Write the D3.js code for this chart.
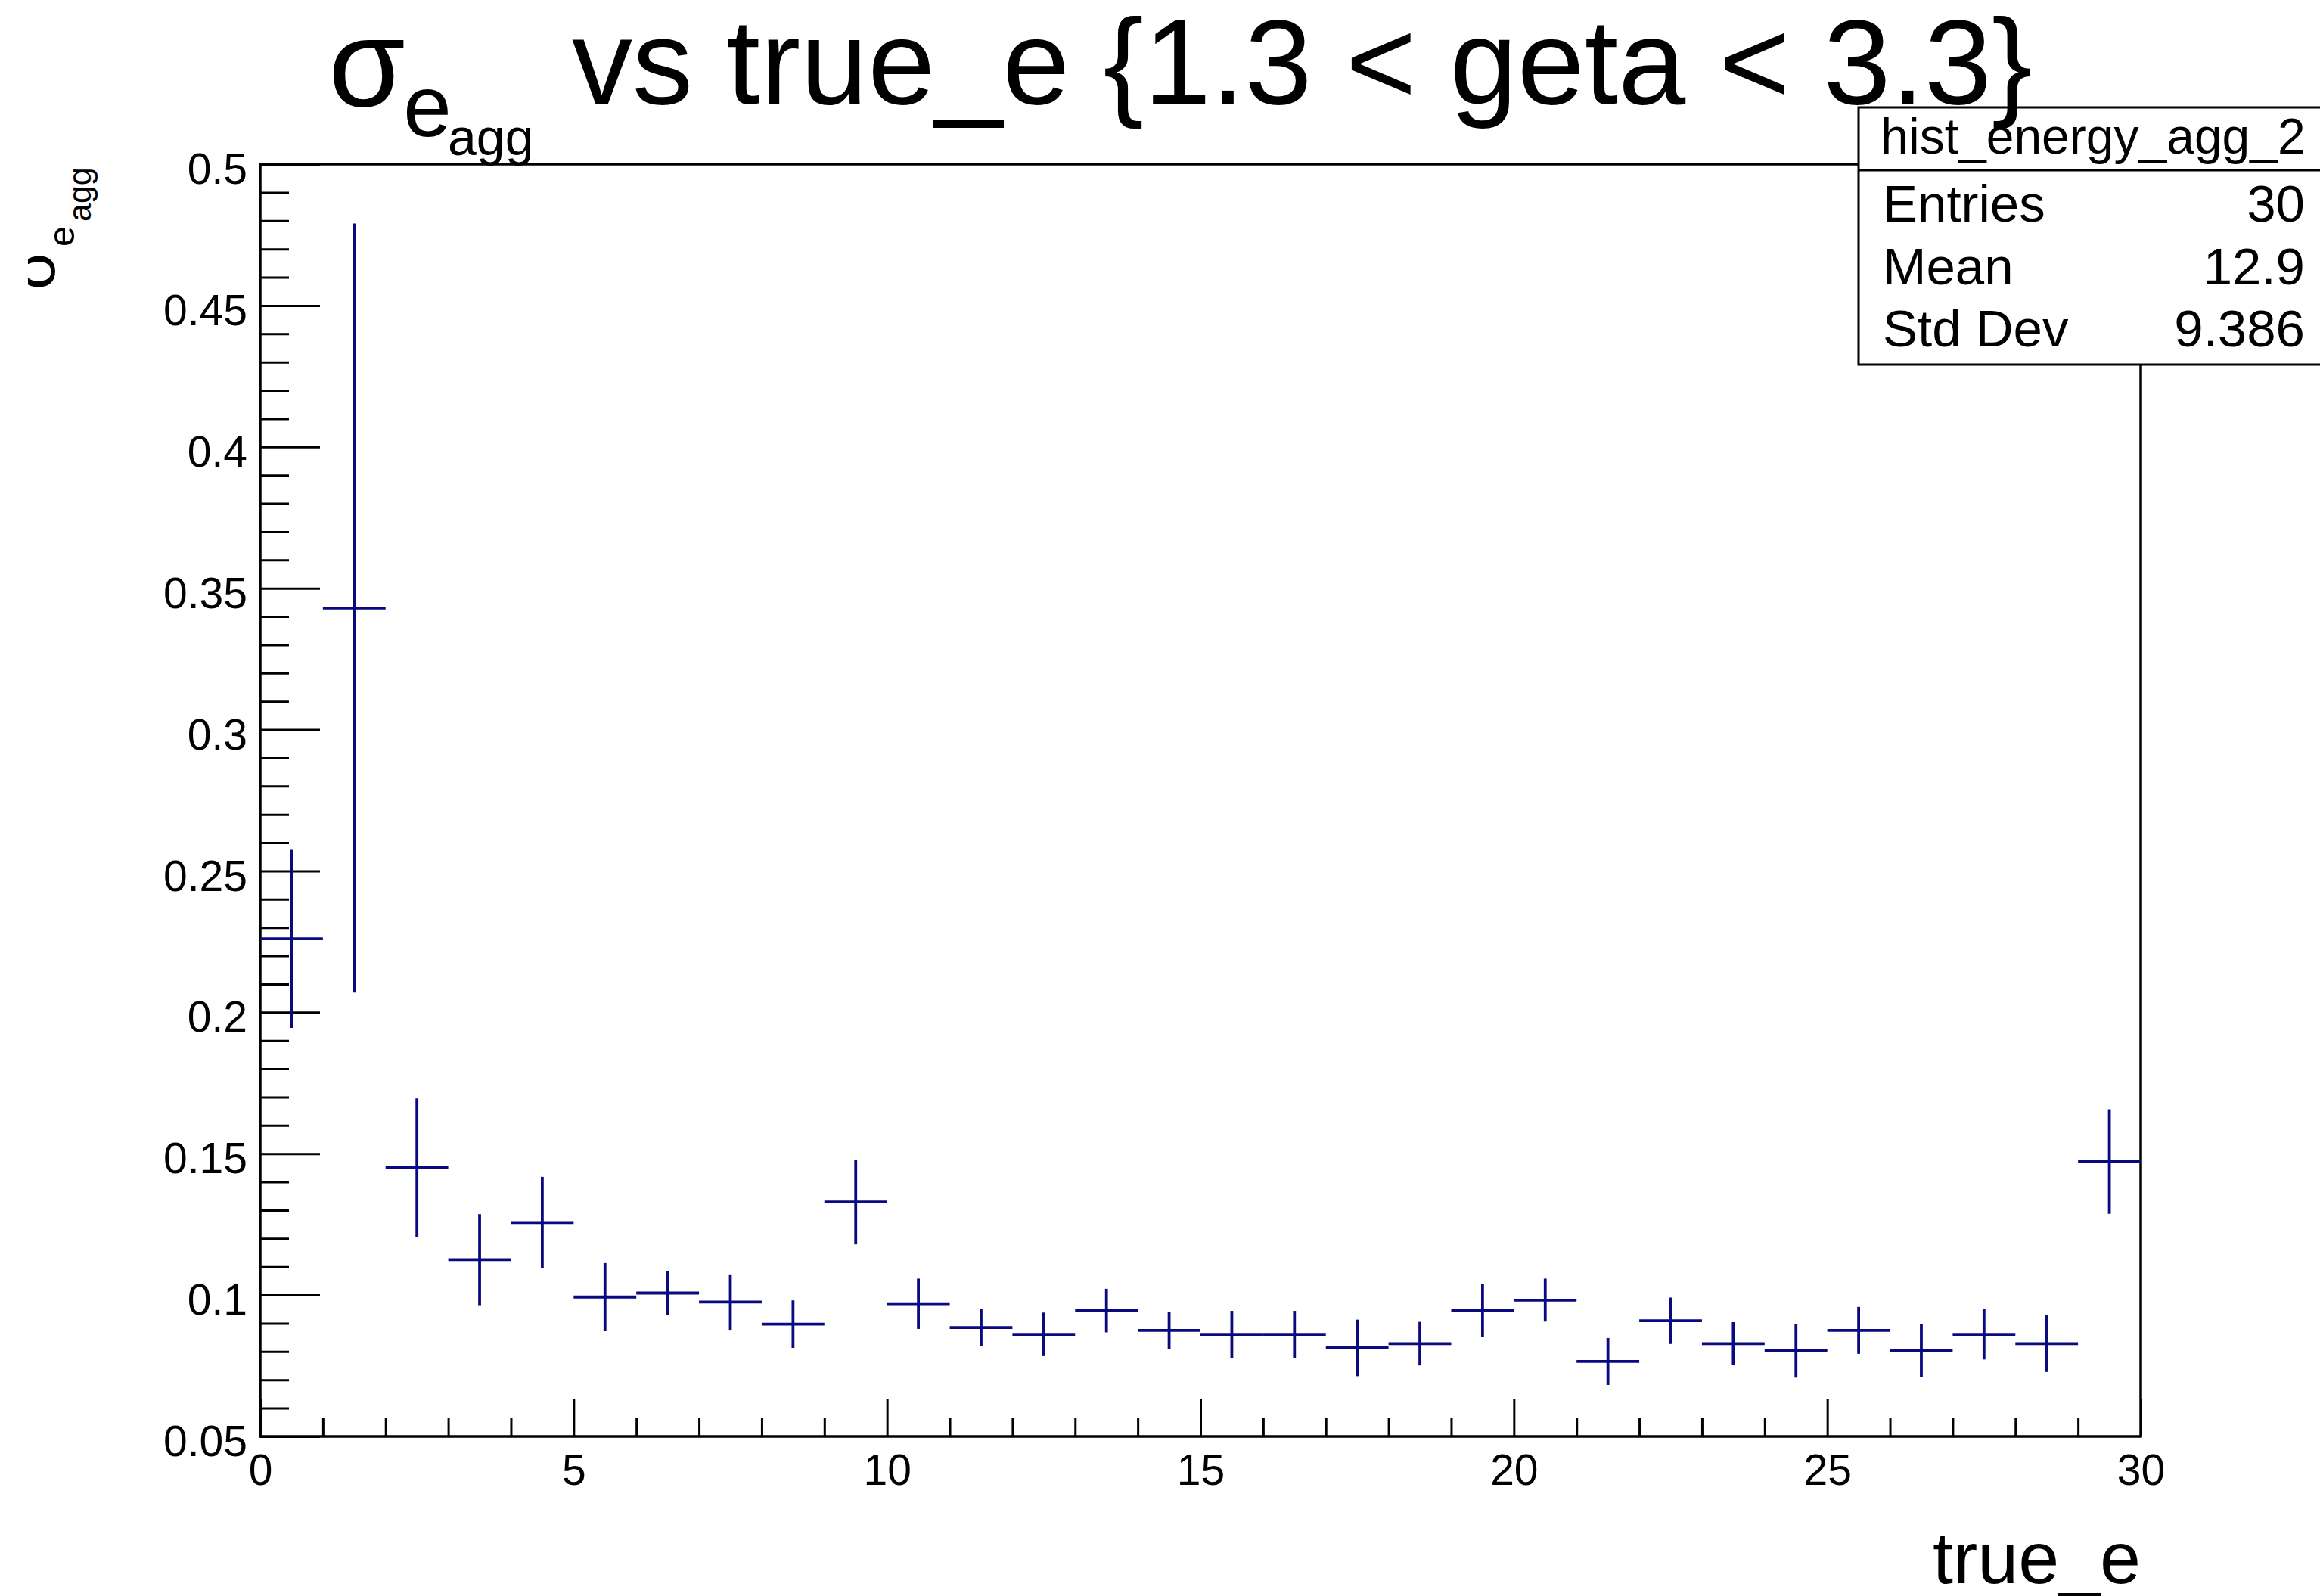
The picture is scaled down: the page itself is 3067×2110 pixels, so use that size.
<!DOCTYPE html>
<html>
<head>
<meta charset="utf-8">
<script src="https://cdn.jsdelivr.net/npm/d3@7"></script>
<style>
  html, body { margin: 0; padding: 0; background: #fff; }
  svg { display: block; }
  text { font-family: "Liberation Sans", Arial, Helvetica, sans-serif; fill: #000; }
</style>
</head>
<body>
<svg id="chart"></svg>
<script>
// bin centres of true_e (bin width 1)
const trueE = [0.5, 1.5, 2.5, 3.5, 4.5, 5.5, 6.5, 7.5, 8.5, 9.5,
               10.5, 11.5, 12.5, 13.5, 14.5, 15.5, 16.5, 17.5, 18.5, 19.5,
               20.5, 21.5, 22.5, 23.5, 24.5, 25.5, 26.5, 27.5, 28.5, 29.5];
// sigma_e_agg per bin
const sigmaVals = [0.226, 0.343, 0.145, 0.1125, 0.1256, 0.0993, 0.1007, 0.0975, 0.0897, 0.1329,
                   0.0969, 0.0885, 0.0861, 0.0945, 0.0875, 0.0861, 0.0861, 0.0813, 0.0828, 0.0946,
                   0.0982, 0.0765, 0.0909, 0.0828, 0.0803, 0.0875, 0.0803, 0.0861, 0.0828, 0.1472];
// error on each bin
const sigmaErrs = [0.0315, 0.136, 0.0245, 0.0161, 0.0162, 0.012, 0.0079, 0.0098, 0.0084, 0.015,
                   0.0089, 0.0065, 0.0077, 0.0077, 0.0066, 0.0083, 0.0083, 0.01, 0.0077, 0.0094,
                   0.0076, 0.0083, 0.0082, 0.0076, 0.0095, 0.0083, 0.0093, 0.0089, 0.01, 0.0185];
const binHalfWidth = 0.5;

const xTicks = [0, 5, 10, 15, 20, 25, 30];
const yTicks = [0.05, 0.1, 0.15, 0.2, 0.25, 0.3, 0.35, 0.4, 0.45, 0.5];
const yTickLabels = ["0.05", "0.1", "0.15", "0.2", "0.25", "0.3", "0.35", "0.4", "0.45", "0.5"];

const statsTitle = "hist_energy_agg_2";
const statsNames = ["Entries", "Mean", "Std Dev"];
const statsValues = ["30", "12.9", "9.386"];

const width = 3067, height = 2110;
const frame = { left: 344, right: 2830, top: 217, bottom: 1899 };
const lineColor = "#0a0a80";

const svg = d3.select("#chart")
    .attr("width", width)
    .attr("height", height);

svg.append("rect").attr("width", width).attr("height", height).attr("fill", "#fff");

const x = d3.scaleLinear().domain([0, 30]).range([frame.left, frame.right]);
const y = d3.scaleLinear().domain([0.05, 0.5]).range([frame.bottom, frame.top]);

// minor ticks (ROOT style, pointing into the frame)
const xMinor = d3.range(0, 30.001, 1).filter(v => v % 5 !== 0);
const yMinor = d3.range(0.05, 0.5001, 0.01).filter(v => Math.abs(v * 20 - Math.round(v * 20)) > 1e-6);

svg.append("g")
    .attr("transform", `translate(0, ${frame.bottom})`)
    .call(d3.axisBottom(x).tickValues(xMinor).tickSizeInner(-24).tickSizeOuter(0).tickFormat(""))
    .call(g => g.select(".domain").remove());

svg.append("g")
    .attr("transform", `translate(0, ${frame.bottom})`)
    .call(d3.axisBottom(x).tickValues(xTicks).tickSizeInner(-49).tickSizeOuter(0).tickPadding(24).tickFormat(d3.format("d")))
    .call(g => g.select(".domain").remove())
    .call(g => g.selectAll("text").attr("font-size", 57).attr("font-family", null));

svg.append("g")
    .attr("transform", `translate(${frame.left}, 0)`)
    .call(d3.axisLeft(y).tickValues(yMinor).tickSizeInner(-38).tickSizeOuter(0).tickFormat(""))
    .call(g => g.select(".domain").remove());

svg.append("g")
    .attr("transform", `translate(${frame.left}, 0)`)
    .call(d3.axisLeft(y).tickValues(yTicks).tickSizeInner(-79).tickSizeOuter(0).tickPadding(17)
        .tickFormat((d, i) => yTickLabels[i]))
    .call(g => g.select(".domain").remove())
    .call(g => g.selectAll("text").attr("font-size", 57).attr("font-family", null).attr("dy", "0.45em"));

svg.selectAll(".tick line").attr("stroke", "#000").attr("stroke-width", 3);

// frame
svg.append("rect")
    .attr("x", frame.left).attr("y", frame.top)
    .attr("width", frame.right - frame.left).attr("height", frame.bottom - frame.top)
    .attr("fill", "none").attr("stroke", "#000").attr("stroke-width", 3.5);

// error crosses
const pts = svg.append("g").attr("stroke", lineColor).attr("stroke-width", 3.8);
trueE.forEach((c, i) => {
    pts.append("line")
        .attr("x1", x(c - binHalfWidth)).attr("x2", x(c + binHalfWidth))
        .attr("y1", y(sigmaVals[i])).attr("y2", y(sigmaVals[i]));
    pts.append("line")
        .attr("x1", x(c)).attr("x2", x(c))
        .attr("y1", y(sigmaVals[i] - sigmaErrs[i])).attr("y2", y(sigmaVals[i] + sigmaErrs[i]));
});

// stats box
const box = svg.append("g");
box.append("rect")
    .attr("x", 2457).attr("y", 142).attr("width", 640).attr("height", 340)
    .attr("fill", "#fff").attr("stroke", "#000").attr("stroke-width", 3);
box.append("line")
    .attr("x1", 2457).attr("x2", 3097).attr("y1", 225).attr("y2", 225)
    .attr("stroke", "#000").attr("stroke-width", 3);
box.append("text")
    .attr("x", 2767).attr("y", 203).attr("text-anchor", "middle")
    .attr("font-size", 66).text(statsTitle);
statsNames.forEach((name, i) => {
    box.append("text").attr("x", 2489).attr("y", 293 + i * 82.5)
        .attr("font-size", 69).text(name);
    box.append("text").attr("x", 3047).attr("y", 293 + i * 82.5)
        .attr("text-anchor", "end").attr("font-size", 69).text(statsValues[i]);
});

// title
const title = svg.append("g");
title.append("text").attr("x", 434).attr("y", 140).attr("font-size", 165).text("σ");
title.append("text").attr("x", 533).attr("y", 180).attr("font-size", 115).text("e");
title.append("text").attr("x", 592).attr("y", 205).attr("font-size", 68).text("agg");
title.append("text").attr("x", 756).attr("y", 137).attr("font-size", 160)
    .text("vs true_e {1.3 < geta < 3.3}");

// axis titles
svg.append("text")
    .attr("x", frame.right).attr("y", 2093)
    .attr("text-anchor", "end").attr("font-size", 97)
    .text("true_e");

svg.append("clipPath").attr("id", "ytclip")
    .append("rect").attr("x", 37).attr("y", 0).attr("width", 300).attr("height", 600);
const yTitle = svg.append("g").attr("clip-path", "url(#ytclip)")
    .append("g").attr("transform", "translate(72, 383) rotate(-90)");
yTitle.append("text").attr("x", 0).attr("y", 0).attr("font-size", 85).text("σ");
yTitle.append("text").attr("x", 57).attr("y", 26).attr("font-size", 49).text("e");
yTitle.append("text").attr("x", 90).attr("y", 48).attr("font-size", 43).text("agg");
</script>
</body>
</html>
